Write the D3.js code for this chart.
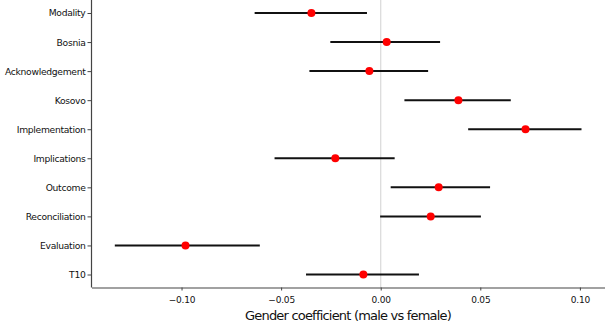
<!DOCTYPE html>
<html><head><meta charset="utf-8">
<script src="https://cdn.jsdelivr.net/npm/d3@7"></script>
<style>body{margin:0;background:#fff;} text{font-family:"DejaVu Sans",sans-serif;}</style>
</head><body><svg id="c" width="605" height="324"></svg>
<script>
const categories = ["Modality","Bosnia","Acknowledgement","Kosovo","Implementation","Implications","Outcome","Reconciliation","Evaluation","T10"];
const estimates = [-0.0348, 0.0030, -0.0057, 0.0390, 0.0727, -0.0228, 0.0291, 0.0251, -0.0980, -0.0087];
const lower = [-0.0633, -0.0253, -0.0358, 0.0119, 0.0439, -0.0533, 0.0050, -0.0003, -0.1335, -0.0375];
const upper = [-0.0069, 0.0298, 0.0238, 0.0653, 0.1008, 0.0070, 0.0549, 0.0503, -0.0607, 0.0192];
const xTicks = [-0.10, -0.05, 0.00, 0.05, 0.10];
const xLabel = "Gender coefficient (male vs female)";

const svg = d3.select("#c");
const mLeft = 91.5, mRight = 605, mTop = 0, mBottom = 287.5;
const x = d3.scaleLinear().domain([-0.1452, 0.1126]).range([mLeft, mRight]);
const y = d3.scalePoint().domain(categories).range([13, 274.5]);

// zero reference line
svg.append("line").attr("x1", x(0)).attr("x2", x(0)).attr("y1", mTop).attr("y2", mBottom)
  .attr("stroke", "#d9d9d9").attr("stroke-width", 1.2);

const data = categories.map((c,i)=>({c, e:estimates[i], lo:lower[i], hi:upper[i]}));
svg.selectAll("line.err").data(data).join("line").attr("class","err")
  .attr("x1", d=>x(d.lo)).attr("x2", d=>x(d.hi))
  .attr("y1", d=>y(d.c)).attr("y2", d=>y(d.c))
  .attr("stroke", "#111").attr("stroke-width", 2);
svg.selectAll("circle.pt").data(data).join("circle").attr("class","pt")
  .attr("cx", d=>x(d.e)).attr("cy", d=>y(d.c)).attr("r", 4)
  .attr("fill", "#f00");

const xAxis = svg.append("g").attr("transform", `translate(0,${mBottom})`)
  .call(d3.axisBottom(x).tickValues(xTicks).tickFormat(d3.format(".2f")).tickSize(3).tickSizeOuter(0));
const yAxis = svg.append("g").attr("transform", `translate(${mLeft},0)`)
  .call(d3.axisLeft(y).tickSize(4).tickSizeOuter(0));
[xAxis, yAxis].forEach(g=>{
  g.select(".domain").attr("stroke", "#444").attr("stroke-width", 1.2);
  g.selectAll(".tick line").attr("stroke", "#444");
  g.selectAll("text").attr("fill", "#111").style("font-family", '"DejaVu Sans", sans-serif');
});
yAxis.selectAll("text").style("font-size", "9.2px").style("letter-spacing", "-0.3px").attr("x", -6);
xAxis.selectAll("text").style("font-size", "9px").style("letter-spacing", "-0.2px").attr("dy", "1em");
yAxis.select(".domain").attr("d", `M0,${mTop}V${mBottom}`);

svg.append("text").attr("x", 348).attr("y", 320).attr("text-anchor", "middle")
  .style("font-size", "13px").style("letter-spacing", "-0.8px").attr("fill", "#111").text(xLabel);
</script></body></html>
